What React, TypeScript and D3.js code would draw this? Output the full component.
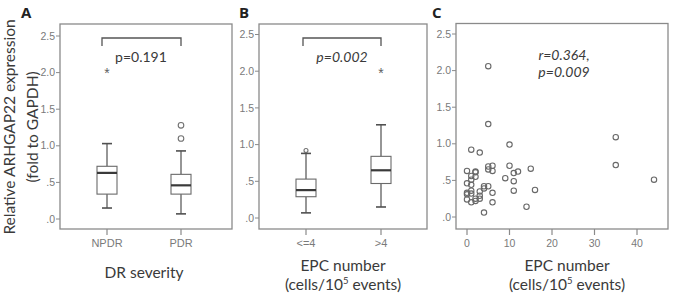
import React from "react";
import * as d3 from "d3";

// Box-plot summaries (relative ARHGAP22 expression, fold to GAPDH)
const drGroups = ["NPDR", "PDR"];
const drWhiskerLow = [0.15, 0.07];
const drQ1 = [0.34, 0.34];
const drMedian = [0.63, 0.46];
const drQ3 = [0.72, 0.61];
const drWhiskerHigh = [1.03, 0.93];
const drOutliers = [[], [1.1, 1.28]];
const drExtremes = [[2.07], []];

const epcGroups = ["<=4", ">4"];
const epcWhiskerLow = [0.07, 0.15];
const epcQ1 = [0.29, 0.47];
const epcMedian = [0.38, 0.65];
const epcQ3 = [0.53, 0.84];
const epcWhiskerHigh = [0.88, 1.27];
const epcOutliers = [[0.92], []];
const epcExtremes = [[], [2.05]];

// Scatter: EPC number vs expression
const epcCount = [5, 5, 35, 35, 44, 1, 3, 10, 0, 1, 2, 2, 1, 5, 6, 5, 6, 10, 9, 11, 12, 15, 11, 11, 0, 1, 0, 0, 1, 0, 1, 2, 2, 3, 3, 3, 4, 5, 4, 6, 6, 4, 14, 16, 2, 1];
const expression = [2.06, 1.27, 1.09, 0.71, 0.51, 0.92, 0.88, 0.99, 0.63, 0.56, 0.61, 0.55, 0.51, 0.69, 0.7, 0.65, 0.63, 0.7, 0.53, 0.6, 0.62, 0.66, 0.49, 0.36, 0.46, 0.44, 0.33, 0.31, 0.32, 0.24, 0.2, 0.22, 0.25, 0.29, 0.25, 0.35, 0.39, 0.42, 0.42, 0.33, 0.2, 0.06, 0.14, 0.37, 0.62, 0.36];

const yTicks = [0, 0.5, 1, 1.5, 2, 2.5];
const yTickLabels = [".0", ".5", "1.0", "1.5", "2.0", "2.5"];
const xTicks = [0, 10, 20, 30, 40];

const FRAME = "#8a8a8a";
const TICKTXT = "#7a7a7a";
const INK = "#505050";
const TITLE = "#3a3a3a";
const SANS = "Lato, 'Open Sans', sans-serif";
const ARIAL = "'Liberation Sans', Arial, sans-serif";

type Frame = { x0: number; x1: number; y0: number; y1: number; yZero: number; yTop: number };

function YAxis({ f }: { f: Frame }) {
  const y = d3.scaleLinear().domain([0, 2.5]).range([f.yZero, f.yTop]);
  return (
    <g>
      {yTicks.map((t, i) => (
        <g key={i}>
          <line x1={f.x0 - 4} x2={f.x0} y1={y(t)} y2={y(t)} stroke={FRAME} strokeWidth={1} />
          <text x={f.x0 - 5} y={y(t)} dy="0.35em" textAnchor="end" fontSize={10.5} fill={TICKTXT} fontFamily={ARIAL}>
            {yTickLabels[i]}
          </text>
        </g>
      ))}
    </g>
  );
}

function BoxPanel({
  f, groups, wl, q1, med, q3, wh, outl, extr, centers,
}: {
  f: Frame; groups: string[]; wl: number[]; q1: number[]; med: number[]; q3: number[]; wh: number[];
  outl: number[][]; extr: number[][]; centers: [number, number];
}) {
  const y = d3.scaleLinear().domain([0, 2.5]).range([f.yZero, f.yTop]);
  const x = d3.scalePoint().domain(groups).range(centers);
  const bw = 20;
  const cap = 5;
  return (
    <g>
      <rect x={f.x0} y={f.y0} width={f.x1 - f.x0} height={f.y1 - f.y0} fill="none" stroke={FRAME} strokeWidth={1.3} />
      <YAxis f={f} />
      {groups.map((g, i) => {
        const cx = x(g) as number;
        return (
          <g key={g}>
            <line x1={cx} x2={cx} y1={f.y1} y2={f.y1 + 6} stroke={FRAME} strokeWidth={1.2} />
            <text x={cx} y={247} textAnchor="middle" fontSize={11} fill={TICKTXT} fontFamily={ARIAL}>{g}</text>
            <line x1={cx} x2={cx} y1={y(wl[i])} y2={y(q1[i])} stroke={INK} strokeWidth={1.2} />
            <line x1={cx} x2={cx} y1={y(q3[i])} y2={y(wh[i])} stroke={INK} strokeWidth={1.2} />
            <line x1={cx - cap} x2={cx + cap} y1={y(wl[i])} y2={y(wl[i])} stroke={INK} strokeWidth={1.6} />
            <line x1={cx - cap} x2={cx + cap} y1={y(wh[i])} y2={y(wh[i])} stroke={INK} strokeWidth={1.6} />
            <rect x={cx - bw / 2} y={y(q3[i])} width={bw} height={y(q1[i]) - y(q3[i])} fill="#fff" stroke="#6a6a6a" strokeWidth={1.1} />
            <line x1={cx - bw / 2} x2={cx + bw / 2} y1={y(med[i])} y2={y(med[i])} stroke="#3a3a3a" strokeWidth={2.2} />
            {outl[i].map((v, k) => (
              <circle key={k} cx={cx} cy={y(v)} r={i === 0 && groups[0] === "<=4" ? 2 : 2.8} fill="none" stroke="#707070" strokeWidth={1.1} />
            ))}
            {extr[i].map((v, k) => (
              <text key={k} x={cx} y={y(v)} dy="0.75em" textAnchor="middle" fontSize={14} fill="#606060" fontFamily={ARIAL}>*</text>
            ))}
          </g>
        );
      })}
    </g>
  );
}

function ScatterPanel({ f }: { f: Frame }) {
  const y = d3.scaleLinear().domain([0, 2.5]).range([f.yZero, f.yTop]);
  const x = d3.scaleLinear().domain([0, 40]).range([467, 637]);
  return (
    <g>
      <rect x={f.x0} y={f.y0} width={f.x1 - f.x0} height={f.y1 - f.y0} fill="none" stroke={FRAME} strokeWidth={1.3} />
      <YAxis f={f} />
      {xTicks.map((t) => (
        <g key={t}>
          <line x1={x(t)} x2={x(t)} y1={f.y1} y2={f.y1 + 6} stroke={FRAME} strokeWidth={1.2} />
          <text x={x(t)} y={247} textAnchor="middle" fontSize={10.5} fill={TICKTXT} fontFamily={ARIAL}>{t}</text>
        </g>
      ))}
      {epcCount.map((c, i) => (
        <circle key={i} cx={x(c)} cy={y(expression[i])} r={2.7} fill="none" stroke="#686868" strokeWidth={1.1} />
      ))}
    </g>
  );
}

export default function App() {
  const fA: Frame = { x0: 60, x1: 232, y0: 24, y1: 229, yZero: 219, yTop: 36 };
  const fB: Frame = { x0: 259, x1: 427, y0: 24, y1: 229, yZero: 218, yTop: 34.5 };
  const fC: Frame = { x0: 456, x1: 668, y0: 23.5, y1: 229, yZero: 217, yTop: 34 };
  return (
    <svg width={676} height={294} style={{ position: "absolute", left: 0, top: 0, background: "#fff" }}>
      {/* panel letters */}
      <text x={21} y={18} fontSize={15} fontWeight="bold" fill="#222" fontFamily="'Open Sans', sans-serif">A</text>
      <text x={239} y={18} fontSize={15} fontWeight="bold" fill="#222" fontFamily="'Open Sans', sans-serif">B</text>
      <text x={432} y={18} fontSize={15} fontWeight="bold" fill="#222" fontFamily="'Open Sans', sans-serif">C</text>

      {/* shared y title */}
      <g fontFamily={SANS} fontSize={15.5} fill={TITLE} textAnchor="middle">
        <text transform="translate(15,127) rotate(-90)">Relative ARHGAP22 expression</text>
        <text transform="translate(38,127) rotate(-90)">(fold to GAPDH)</text>
      </g>

      <BoxPanel f={fA} groups={drGroups} wl={drWhiskerLow} q1={drQ1} med={drMedian} q3={drQ3} wh={drWhiskerHigh}
        outl={drOutliers} extr={drExtremes} centers={[107, 181]} />
      <BoxPanel f={fB} groups={epcGroups} wl={epcWhiskerLow} q1={epcQ1} med={epcMedian} q3={epcQ3} wh={epcWhiskerHigh}
        outl={epcOutliers} extr={epcExtremes} centers={[306, 381]} />
      <ScatterPanel f={fC} />

      {/* significance brackets */}
      <path d="M102,46 V38 H181 V46" fill="none" stroke="#555" strokeWidth={1.3} />
      <text x={141} y={62} textAnchor="middle" fontSize={14} fill={TITLE} fontFamily={SANS}>p=0.191</text>
      <path d="M303,46 V38 H381 V46" fill="none" stroke="#555" strokeWidth={1.3} />
      <text x={342} y={62} textAnchor="middle" fontSize={14} fontStyle="italic" fill={TITLE} fontFamily={SANS}>p=0.002</text>
      <text x={564} y={60} textAnchor="middle" fontSize={14} fontStyle="italic" fill={TITLE} fontFamily={SANS}>r=0.364,</text>
      <text x={564} y={77} textAnchor="middle" fontSize={14} fontStyle="italic" fill={TITLE} fontFamily={SANS}>p=0.009</text>

      {/* x titles */}
      <g fontFamily={SANS} fontSize={15.5} fill={TITLE} textAnchor="middle">
        <text x={144} y={278}>DR severity</text>
        <text x={343} y={271}>EPC number</text>
        <text x={343} y={290}>(cells/10<tspan fontSize={9.5} dy={-6}>5</tspan><tspan dy={6}> events)</tspan></text>
        <text x={567} y={271}>EPC number</text>
        <text x={567} y={290}>(cells/10<tspan fontSize={9.5} dy={-6}>5</tspan><tspan dy={6}> events)</tspan></text>
      </g>
    </svg>
  );
}
